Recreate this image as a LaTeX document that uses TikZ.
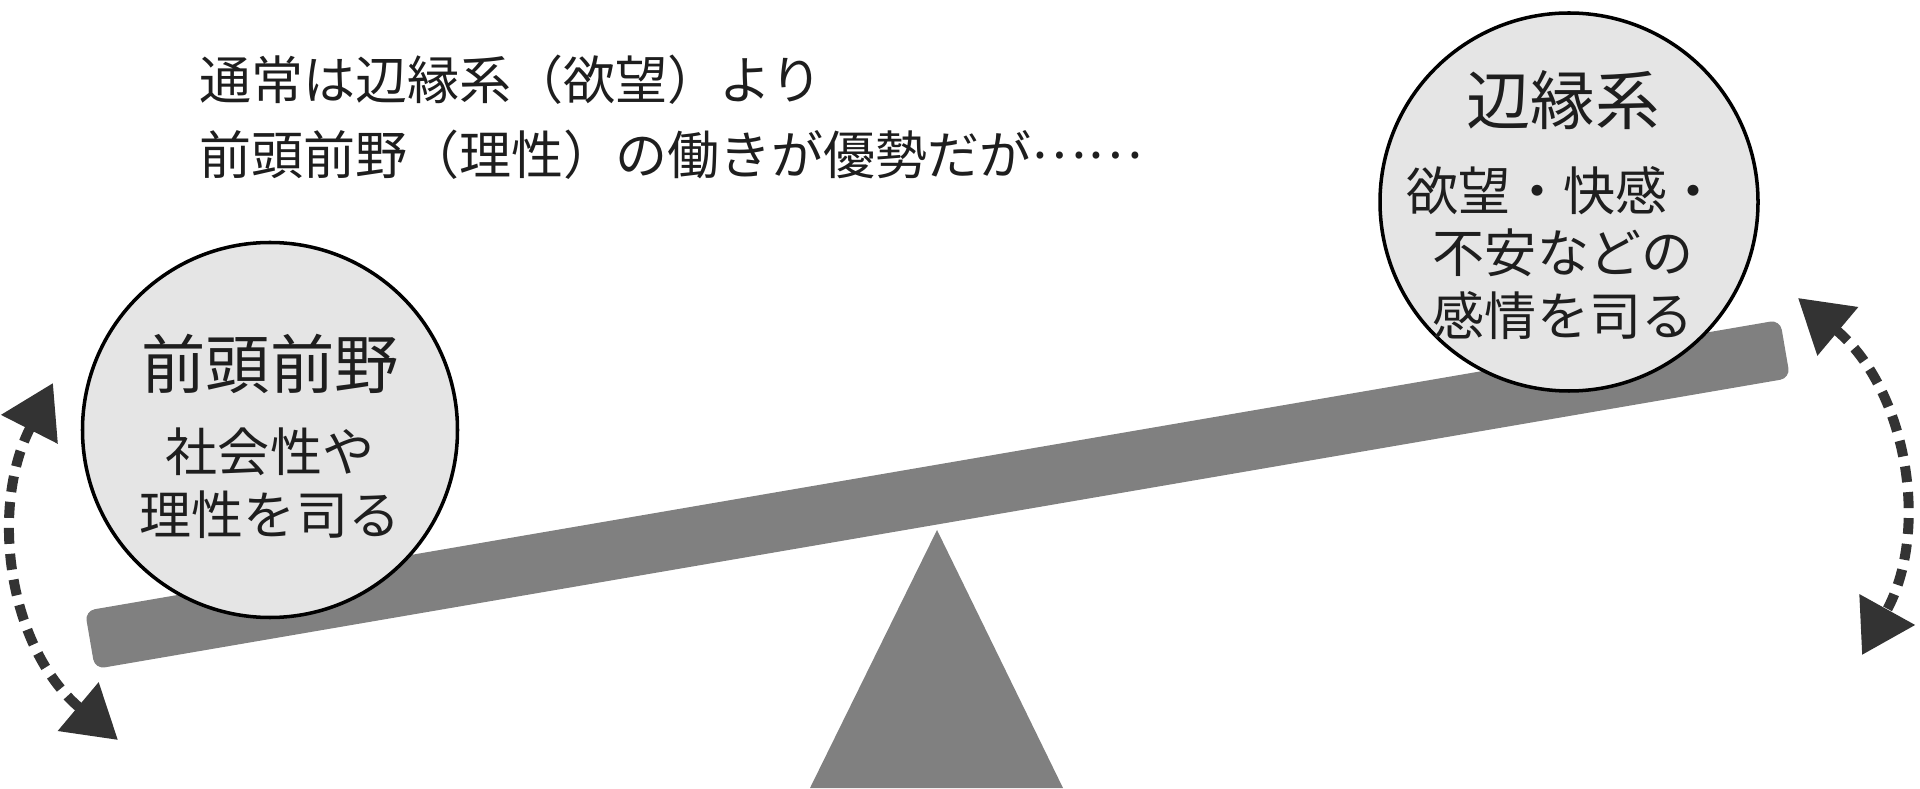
\documentclass[tikz,border=0pt]{standalone}
\usepackage{fontspec}
\setmainfont{Noto Sans CJK JP}
\usetikzlibrary{arrows.meta, calc, positioning}
\definecolor{beamgray}{RGB}{128,128,128}
\definecolor{ballgray}{RGB}{229,229,229}
\definecolor{arrowgray}{RGB}{51,51,51}
\definecolor{textgray}{RGB}{30,30,30}

\begin{document}
\begin{tikzpicture}[
    ball/.style={circle, draw=black, line width=1pt, fill=ballgray, inner sep=0pt},
    balltitle/.style={text=textgray, font=\fontsize{18.3}{22}\selectfont, inner sep=0pt},
    balltext/.style={text=textgray, font=\fontsize{14.8}{17.9}\selectfont, align=center, inner sep=0pt},
    note/.style={text=textgray, font=\fontsize{14.8}{21.3}\selectfont, align=left, inner sep=0pt},
    swing/.style={arrowgray, line width=1mm, dash pattern=on 1.6mm off 1mm, {Triangle[length=5.2mm,width=6.1mm]}-{Triangle[length=5.2mm,width=6.1mm]}}
  ]
  \useasboundingbox (0,0) rectangle (19.2,7.88);
  \node[fill=beamgray, rounded corners=1mm, minimum width=17.2cm, minimum height=5.9mm, inner sep=0pt, rotate=9.74] (beam) at (9.375,2.935) {};
  \fill[beamgray] (9.37,2.58) coordinate (pivot) -- (10.63,0) -- (8.10,0) -- cycle;

  \node[ball, minimum size=3.75cm] (pfc) at (2.70,3.58) {};
  \node[ball, minimum size=3.78cm] (limbic) at (15.69,5.86) {};
  \node[balltitle] (pfctitle) at ($(pfc)+(0,0.66)$) {前頭前野};
  \node[balltext] (pfctext) at ($(pfc)+(0,-0.53)$) {社会性や\\理性を司る};
  \node[balltitle] (limbictitle) at ($(limbic)+(-0.06,1.02)$) {辺縁系};
  \node[balltext] (limbictext) at ($(limbic)+(-0.06,-0.51)$) {欲望・快感・\\不安などの\\感情を司る};

  \node[note, anchor=west] (note) at (1.99,6.705) {通常は辺縁系（欲望）より\\前頭前野（理性）の働きが優勢だが\raisebox{0.32em}{……}};

  \coordinate (ltop) at (0.53,4.05);
  \coordinate (lbot) at (1.18,0.48);
  \coordinate (rtop) at (17.98,4.90);
  \coordinate (rbot) at (18.62,1.33);
  \draw[swing] (ltop) to[out=243, in=140] (lbot);
  \draw[swing] (rtop) to[out=-40, in=61] (rbot);
\end{tikzpicture}
\end{document}
